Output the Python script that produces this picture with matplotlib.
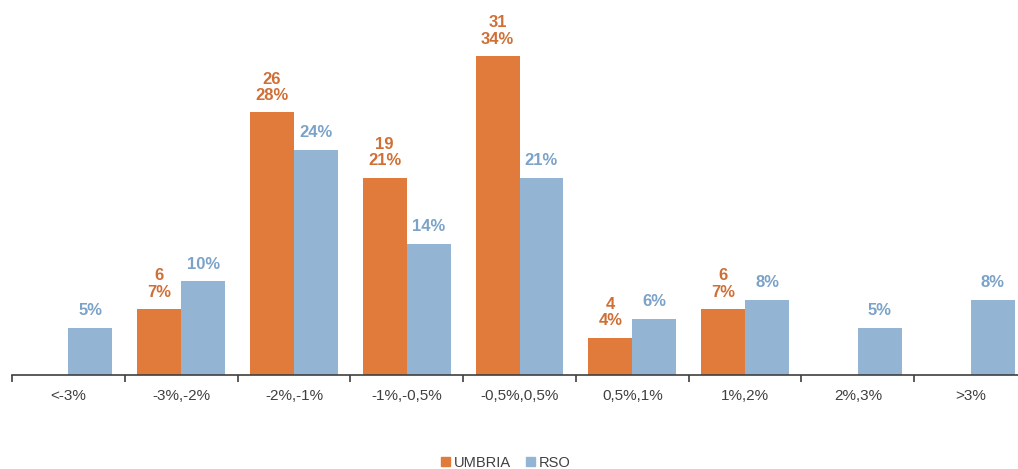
import numpy as np
import matplotlib.pyplot as plt
from matplotlib.patches import Patch

plt.rcParams['font.family'] = ['Liberation Sans', 'DejaVu Sans']

# classi di variazione
categorie = ['<-3%', '-3%,-2%', '-2%,-1%', '-1%,-0,5%', '-0,5%,0,5%',
             '0,5%,1%', '1%,2%', '2%,3%', '>3%']
umbria_n = [0, 6, 26, 19, 31, 4, 6, 0, 0]
umbria_pct = [0, 7, 28, 21, 34, 4, 7, 0, 0]
rso_pct = [5, 10, 24, 14, 21, 6, 8, 5, 8]

ARANCIO = '#E07B3C'
AZZURRO = '#93B5D3'
TXT_ARANCIO = '#D06F35'
TXT_AZZURRO = '#7BA2C8'

fig = plt.figure(figsize=(10.18, 4.69), dpi=100)
ax = fig.add_axes([12 / 1018, 94 / 469, 1015 / 1018, 375 / 469])

x = np.arange(len(categorie))
w = 0.39
ax.bar(x - w / 2, umbria_pct, w, color=ARANCIO)
ax.bar(x + w / 2, rso_pct, w, color=AZZURRO)

# etichette: numero e percentuale per UMBRIA, solo percentuale per RSO
for i in range(len(categorie)):
    if umbria_n[i] > 0:
        ax.annotate(f'{umbria_n[i]}\n{umbria_pct[i]}%', (x[i] - w / 2, umbria_pct[i]),
                    xytext=(0, 7), textcoords='offset points', ha='center', va='bottom',
                    fontsize=12, fontweight='bold', color=TXT_ARANCIO, linespacing=1.1)
    ax.annotate(f'{rso_pct[i]}%', (x[i] + w / 2, rso_pct[i]),
                xytext=(0, 7), textcoords='offset points', ha='center', va='bottom',
                fontsize=12, fontweight='bold', color=TXT_AZZURRO)

ax.set_xlim(-0.5, len(categorie) - 0.5)
ax.set_ylim(0, 40)
ax.set_yticks([])
for s in ['top', 'right', 'left']:
    ax.spines[s].set_visible(False)
ax.spines['bottom'].set_color('#404040')
ax.spines['bottom'].set_linewidth(1.2)

ax.set_xticks(x)
ax.set_xticklabels(categorie, fontsize=11, color='#404040')
ax.tick_params(axis='x', which='major', length=0, pad=10)
ax.set_xticks(np.arange(len(categorie) + 1) - 0.5, minor=True)
ax.tick_params(axis='x', which='minor', length=5, width=1.2, color='#404040', direction='out')

handles = [Patch(color=ARANCIO, label='UMBRIA'), Patch(color=AZZURRO, label='RSO')]
fig.legend(handles=handles, loc='lower center', bbox_to_anchor=(0.497, -0.03), ncol=2,
           frameon=False, fontsize=10.5, handlelength=0.6, handleheight=0.6,
           handletextpad=0.3, columnspacing=1.0, labelcolor='#404040')

fig.savefig('out.png', dpi=100)
